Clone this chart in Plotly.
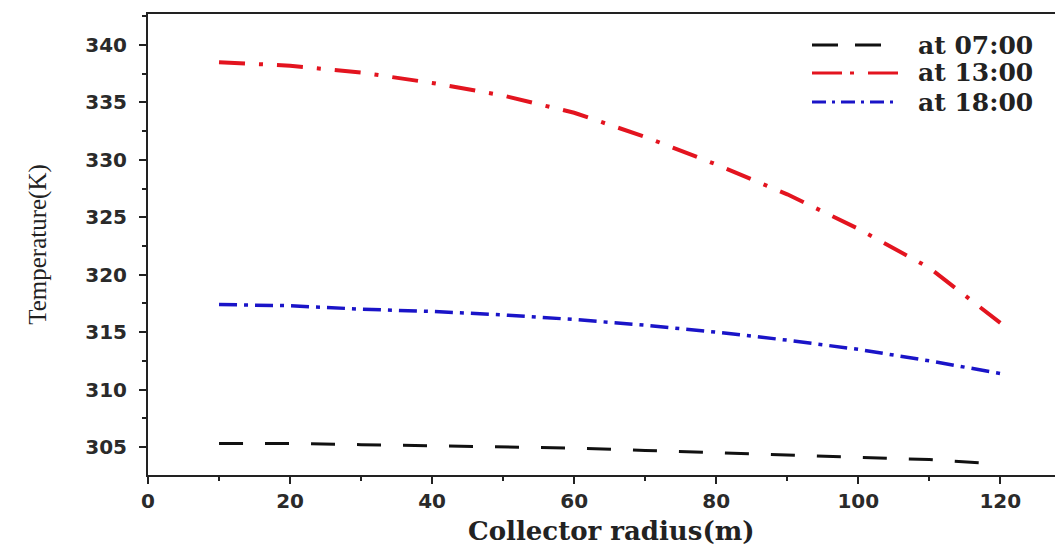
import plotly.graph_objects as go

# Collector radius (m)
radius = [10, 20, 30, 40, 50, 60, 70, 80, 90, 100, 110, 120]

# Air temperature inside the collector (K) at three times of day
temp_0700 = [305.3, 305.3, 305.2, 305.1, 305.0, 304.9, 304.7, 304.5, 304.3, 304.1, 303.9, 303.5]
temp_1300 = [338.5, 338.2, 337.6, 336.7, 335.6, 334.1, 332.0, 329.6, 327.0, 324.0, 320.6, 315.8]
temp_1800 = [317.4, 317.3, 317.0, 316.8, 316.5, 316.1, 315.6, 315.0, 314.3, 313.5, 312.5, 311.4]

series_names = ["at 07:00", "at 13:00", "at 18:00"]

x_ticks = [0, 20, 40, 60, 80, 100, 120]
y_ticks = [305, 310, 315, 320, 325, 330, 335, 340]

W, H = 1055, 545
M_L, M_R, M_T, M_B = 148, 0, 14, 70
PLOT_W = W - M_L - M_R
PLOT_H = H - M_T - M_B


def px_to_paper_x(px):
    return (px - M_L) / PLOT_W


def px_to_paper_y(py):
    return (H - M_B - py) / PLOT_H


styles = [
    dict(color="#111111", width=3, dash="24px,22px"),
    dict(color="#e3141f", width=4, dash="26px,14px,4px,14px"),
    dict(color="#1a14c8", width=3.5, dash="18px,7px,4px,7px"),
]
legend_styles = [
    dict(color="#111111", width=3, dash="26px,17px"),
    dict(color="#e3141f", width=3, dash="30px,8px,4px,14px"),
    dict(color="#1a14c8", width=3, dash="14px,6px,3px,6px"),
]

fig = go.Figure()
for name, temps, st in zip(series_names, [temp_0700, temp_1300, temp_1800], styles):
    fig.add_trace(go.Scatter(x=radius, y=temps, name=name, mode="lines", line=st,
                             showlegend=False))

# Legend box in the upper-right corner: line samples plus labels
row_y = [45, 73, 102]
shapes, annotations = [], []
for name, ly, st in zip(series_names, row_y, legend_styles):
    yp = px_to_paper_y(ly)
    shapes.append(dict(type="line", xref="paper", yref="paper",
                       x0=px_to_paper_x(812), x1=px_to_paper_x(898), y0=yp, y1=yp,
                       line=st))
    annotations.append(dict(text=name, xref="paper", yref="paper",
                            x=px_to_paper_x(916), y=yp, xanchor="left", yanchor="middle",
                            showarrow=False,
                            font=dict(family="DejaVu Serif", size=25, color="#222222",
                                      weight="bold")))

# X-axis title
annotations.append(dict(text="Collector radius(m)", xref="paper", yref="paper",
                        x=px_to_paper_x(611), y=px_to_paper_y(531),
                        xanchor="center", yanchor="middle", showarrow=False,
                        font=dict(family="DejaVu Serif", size=26, color="#222222",
                                  weight="bold")))

tick_font = dict(family="DejaVu Sans", size=20, color="#2a2a2a", weight="bold")

fig.update_layout(
    width=W, height=H,
    margin=dict(l=M_L, r=M_R, t=M_T, b=M_B),
    paper_bgcolor="white", plot_bgcolor="white",
    showlegend=False,
    shapes=shapes,
    annotations=annotations,
    xaxis=dict(
        range=[0, 127.7], tickvals=x_ticks, ticktext=[str(v) for v in x_ticks],
        showgrid=False, zeroline=False,
        showline=True, linecolor="#222222", linewidth=2, mirror=True,
        ticks="outside", ticklen=7, tickwidth=2, tickcolor="#222222",
        minor=dict(dtick=10, tick0=0, ticks="outside", ticklen=4, tickwidth=2, tickcolor="#222222"),
        tickfont=tick_font,
    ),
    yaxis=dict(
        range=[302.56, 342.7], tickvals=y_ticks, ticktext=[str(v) for v in y_ticks],
        showgrid=False, zeroline=False,
        showline=True, linecolor="#222222", linewidth=2, mirror=False,
        ticks="outside", ticklen=7, tickwidth=2, tickcolor="#222222",
        ticklabelstandoff=8,
        minor=dict(dtick=2.5, tick0=0, ticks="outside", ticklen=4, tickwidth=2, tickcolor="#222222"),
        tickfont=tick_font,
        title=dict(text="Temperature(K)", standoff=32,
                   font=dict(family="Liberation Serif", size=25, color="#222222")),
    ),
)

fig.write_html("out.html")
